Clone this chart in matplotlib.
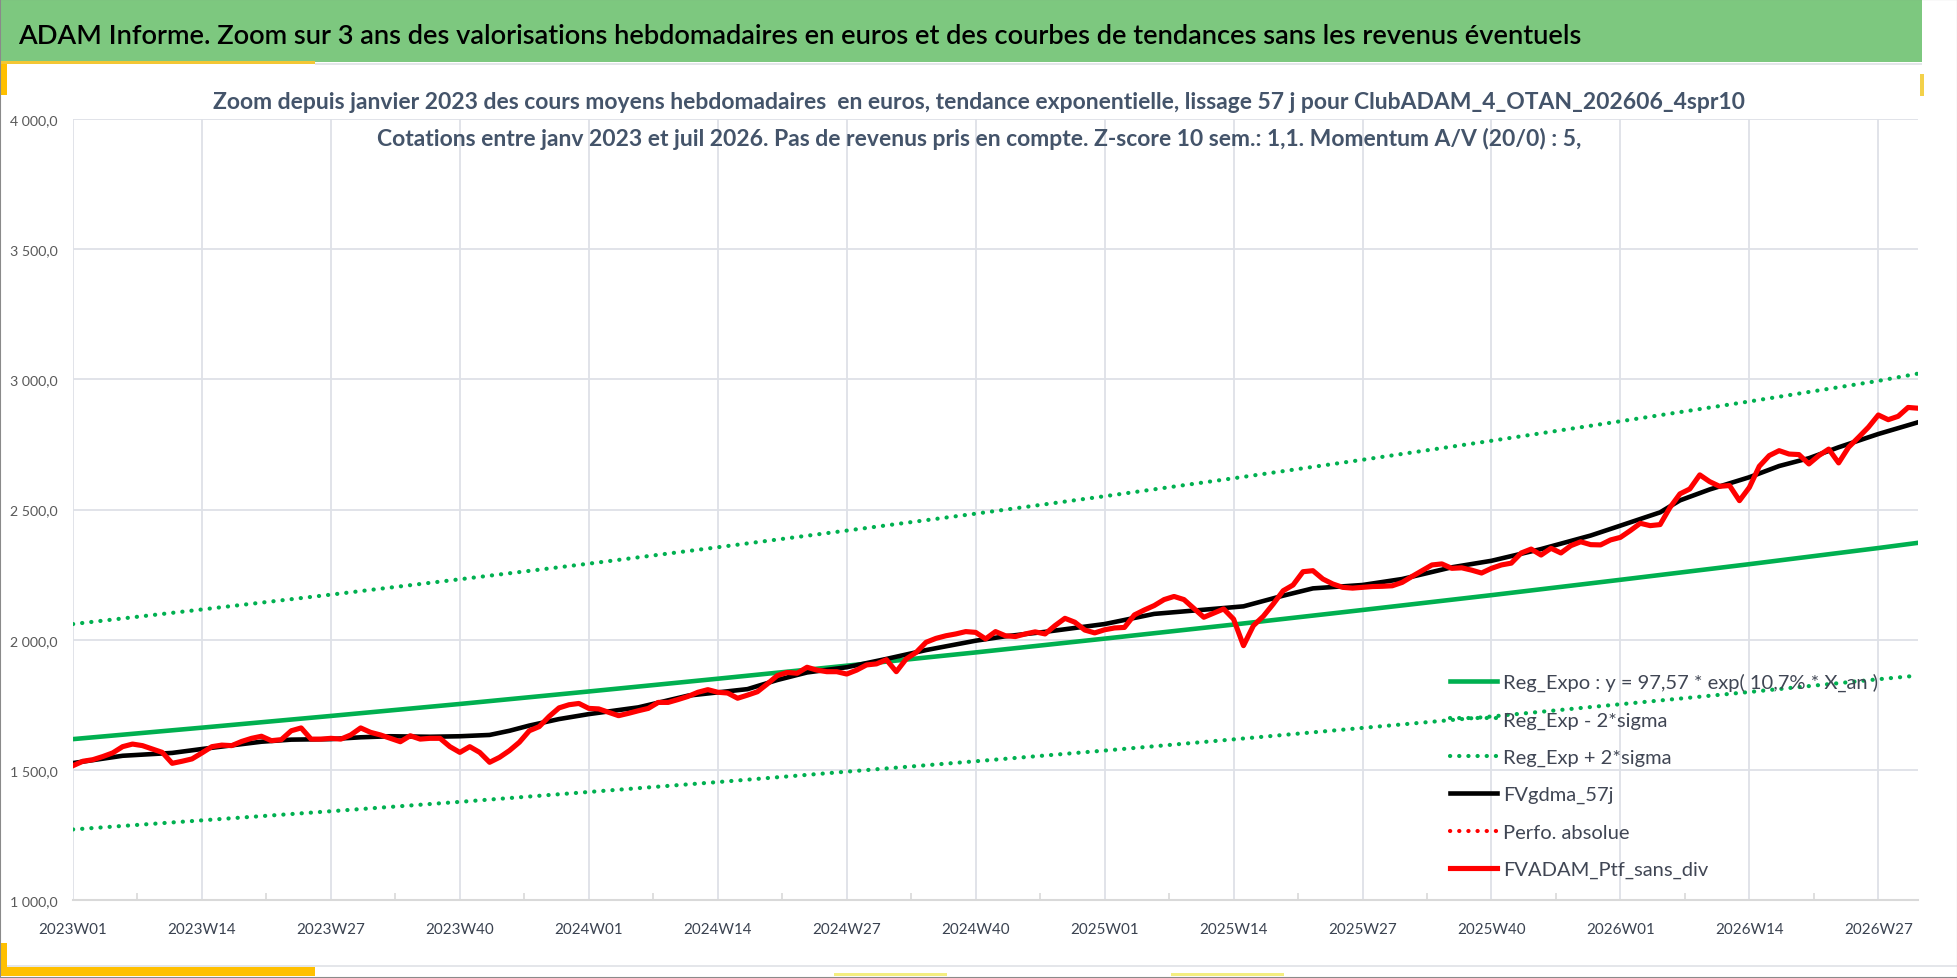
import matplotlib
matplotlib.use("Agg")
import matplotlib.pyplot as plt
from matplotlib.patches import Rectangle
from matplotlib.lines import Line2D

# ---- data ----
weeks = [f"{y}W{w:02d}" for y, n in ((2023, 52), (2024, 52), (2025, 52), (2026, 31))
         for w in range(1, n + 1)]

tick_labels = ["2023W01", "2023W14", "2023W27", "2023W40", "2024W01", "2024W14",
               "2024W27", "2024W40", "2025W01", "2025W14", "2025W27", "2025W40",
               "2026W01", "2026W14", "2026W27"]

# FVADAM_Ptf_sans_div, one value per week
ptf = [1516, 1533, 1539, 1551, 1565, 1589, 1599, 1593, 1580, 1567,
       1525, 1533, 1542, 1565, 1589, 1595, 1593, 1609, 1621, 1629,
       1612, 1616, 1650, 1661, 1618, 1618, 1621, 1618, 1634, 1661,
       1644, 1634, 1621, 1608, 1631, 1618, 1621, 1621, 1589, 1567,
       1589, 1567, 1529, 1548, 1574, 1606, 1650, 1666, 1705, 1738,
       1750, 1755, 1736, 1734, 1721, 1708, 1717, 1727, 1736, 1759,
       1759, 1770, 1782, 1798, 1808, 1798, 1795, 1775, 1787, 1800,
       1830, 1862, 1874, 1871, 1894, 1883, 1877, 1877, 1868, 1883,
       1903, 1907, 1923, 1877, 1926, 1951, 1990, 2005, 2015, 2022,
       2031, 2028, 2003, 2031, 2015, 2012, 2022, 2030,
       2022, 2054, 2082, 2067, 2037, 2026, 2038, 2045, 2047, 2095,
       2114, 2131, 2154, 2166, 2154, 2120, 2086, 2102, 2118, 2079,
       1977, 2054, 2090, 2137, 2188, 2210, 2261, 2265, 2233, 2214,
       2201, 2198, 2201, 2204, 2205, 2207, 2220, 2243, 2265, 2287,
       2291, 2274, 2276, 2267, 2256, 2274,
       2287, 2294, 2333, 2348, 2325, 2351, 2333, 2361, 2376, 2365,
       2364, 2383, 2393, 2419, 2447, 2438, 2442, 2508, 2560, 2579,
       2633, 2607, 2589, 2592, 2534, 2585, 2666, 2707, 2726, 2713,
       2711, 2675, 2707, 2732, 2679, 2739, 2777, 2816, 2863, 2845,
       2858, 2892, 2889]

# FVgdma_57j (smooth), read at these week offsets
gdma_idx = [0, 5, 10, 13, 19, 22, 26, 29, 32, 36, 39, 42, 44, 46, 49, 52, 57, 62,
            68, 71, 74, 78, 82, 86, 91, 94, 98, 104, 109, 114, 118, 122, 125, 130,
            134, 139, 143, 148, 153, 156, 160, 162, 165, 169, 172, 175, 178, 182, 186]
gdma_val = [1526, 1554, 1565, 1580, 1608, 1616, 1618, 1625, 1629, 1627, 1629, 1634,
            1650, 1670, 1695, 1714, 1740, 1785, 1810, 1845, 1874, 1894, 1926, 1960,
            1996, 2013, 2030, 2060, 2099, 2115, 2128, 2169, 2197, 2210, 2233, 2278,
            2303, 2348, 2400, 2438, 2489, 2535, 2577, 2624, 2667, 2697, 2739, 2790,
            2835]

# exponential regression and +/- 2 sigma, read at each labelled week and the last week
reg_weeks = tick_labels + ["2026W31"]
reg_expo = [1618, 1662, 1707, 1753, 1801, 1850, 1900, 1951, 2004, 2058, 2114,
            2171, 2230, 2290, 2352, 2372]
reg_plus = [2060, 2116, 2173, 2232, 2292, 2355, 2419, 2484, 2551, 2620, 2691,
            2764, 2839, 2915, 2994, 3022]
reg_minus = [1271, 1306, 1341, 1377, 1415, 1453, 1493, 1533, 1574, 1617, 1661,
             1705, 1752, 1799, 1848, 1862]

y_ticks = [1000, 1500, 2000, 2500, 3000, 3500, 4000]

legend_labels = ["Reg_Expo : y = 97,57 * exp( 10,7% * X_an )", "Reg_Exp - 2*sigma",
                 "Reg_Exp + 2*sigma", "FVgdma_57j", "Perfo. absolue",
                 "FVADAM_Ptf_sans_div"]

title = ("ADAM Informe. Zoom sur 3 ans des valorisations hebdomadaires en euros "
         "et des courbes de tendances sans les revenus éventuels")
sub1 = ("Zoom depuis janvier 2023 des cours moyens hebdomadaires  en euros, tendance "
        "exponentielle, lissage 57 j pour ClubADAM_4_OTAN_202606_4spr10")
sub2 = ("Cotations entre janv 2023 et juil 2026. Pas de revenus pris en compte. "
        "Z-score 10 sem.: 1,1. Momentum A/V (20/0) : 5,")

# ---- figure ----
W, H = 1958, 979
plt.rcParams["font.family"] = ["Lato", "DejaVu Sans"]
fig = plt.figure(figsize=(W / 100, H / 100), dpi=100)
renderer = fig.canvas.get_renderer()

GREEN = "#00B050"
RED = "#FF0000"
DOT = (0, (0.05, 2.15))


def fx(x):
    return x / W


def fy(y):
    return 1 - y / H


def fit(s, width_px, **kw):
    t = fig.text(0, 0, s, fontsize=20, **kw)
    w = t.get_window_extent(renderer=renderer).width
    t.remove()
    return 20 * width_px / w


def rect(x0, y0, x1, y1, color, z=0):
    fig.add_artist(Rectangle((fx(x0), fy(y1)), (x1 - x0) / W, (y1 - y0) / H,
                             transform=fig.transFigure, color=color, lw=0, zorder=z))


# decorations
rect(0, 0, 1922, 63, "#7DC87F")
rect(0, 62, 315, 65, "#F3C634")
rect(315, 64, 1922, 66, "#E4E6EA")
rect(0, 65, 7, 96, "#FFC000")
rect(1920, 75, 1924, 97, "#F3D14A")
rect(0, 966, W, 968, "#E4E6EA")
rect(0, 944, 7, 977, "#FFC000")
rect(0, 968, 315, 977, "#FFC000")
rect(834, 974, 947, 977, "#F4EE80")
rect(1171, 974, 1284, 977, "#F4EE80")
fig.add_artist(Rectangle((0, 0), 1, 1, transform=fig.transFigure, fill=False,
                         edgecolor="#8A8A8A", lw=1.5, zorder=10))

fs_title = fit(title, 1570, weight="semibold")
fig.text(fx(18), fy(44), title, fontsize=fs_title, weight="semibold", color="black",
         va="baseline")
fs_sub = fit(sub1, 1532, weight="bold")
fig.text(0.5, fy(109), sub1, fontsize=fs_sub, weight="bold", color="#44546A",
         ha="center", va="baseline")
fig.text(0.5, fy(146), sub2, fontsize=fs_sub, weight="bold", color="#44546A",
         ha="center", va="baseline")

ax = fig.add_axes([fx(73), fy(901), (1918 - 73) / W, (901 - 120) / H])
ax.set_zorder(1)
ax.patch.set_alpha(0)

x_reg = [weeks.index(w) for w in reg_weeks]
ax.plot(x_reg, reg_expo, color=GREEN, lw=3.3, zorder=3)
ax.plot(x_reg, reg_minus, color=GREEN, lw=3, linestyle=DOT, dash_capstyle="round", zorder=3)
ax.plot(x_reg, reg_plus, color=GREEN, lw=3, linestyle=DOT, dash_capstyle="round", zorder=3)
ax.plot(gdma_idx, gdma_val, color="black", lw=3.3, zorder=4, solid_joinstyle="round")
ax.plot(range(len(ptf)), ptf, color=RED, lw=3.7, zorder=5, solid_joinstyle="round")

ax.set_xlim(0, len(weeks) - 1)
ax.set_ylim(1000, 4000)
ax.set_yticks(y_ticks)
fs_y = fit("1 000,0", 48)
ax.set_yticklabels([f"{v:,.1f}".replace(",", " ").replace(".", ",") for v in y_ticks],
                   fontsize=fs_y, color="#595959")
ax.set_xticks([weeks.index(t) for t in tick_labels])
fs_x = fit("2023W01", 68)
ax.set_xticklabels(tick_labels, fontsize=fs_x, color="#3A4250")
ax.set_xticks([weeks.index(t) + 6.5 for t in tick_labels[:-1]], minor=True)
ax.tick_params(axis="both", which="major", length=0)
ax.tick_params(axis="x", which="major", pad=15.5)
ax.tick_params(axis="y", which="major", pad=10.8)
ax.tick_params(axis="x", which="minor", length=5, direction="in", color="#D9D9D9", width=1.2)
ax.grid(True, which="major", color="#DEE1E7", lw=1.3)
for side in ("top", "right", "left"):
    ax.spines[side].set_visible(False)
ax.spines["bottom"].set_color("#D9D9D9")
ax.spines["bottom"].set_linewidth(1.5)

# legend, drawn at the place it has in the chart
styles = [dict(color=GREEN, lw=3.3),
          dict(color=GREEN, lw=3, linestyle=DOT, dash_capstyle="round"),
          dict(color=GREEN, lw=3, linestyle=DOT, dash_capstyle="round"),
          dict(color="black", lw=3.3),
          dict(color=RED, lw=3, linestyle=DOT, dash_capstyle="round"),
          dict(color=RED, lw=3.7)]
fs_leg = fit(legend_labels[0], 377)
for k, (lab, st) in enumerate(zip(legend_labels, styles)):
    yk = 682 + 37.4 * k
    fig.add_artist(Line2D([fx(1450), fx(1497)], [fy(yk), fy(yk)],
                          transform=fig.transFigure, zorder=6, **st))
    fig.text(fx(1503), fy(yk + 7), lab, fontsize=fs_leg, color="#404654",
             va="baseline", zorder=6)

fig.savefig("out.png", dpi=100)
